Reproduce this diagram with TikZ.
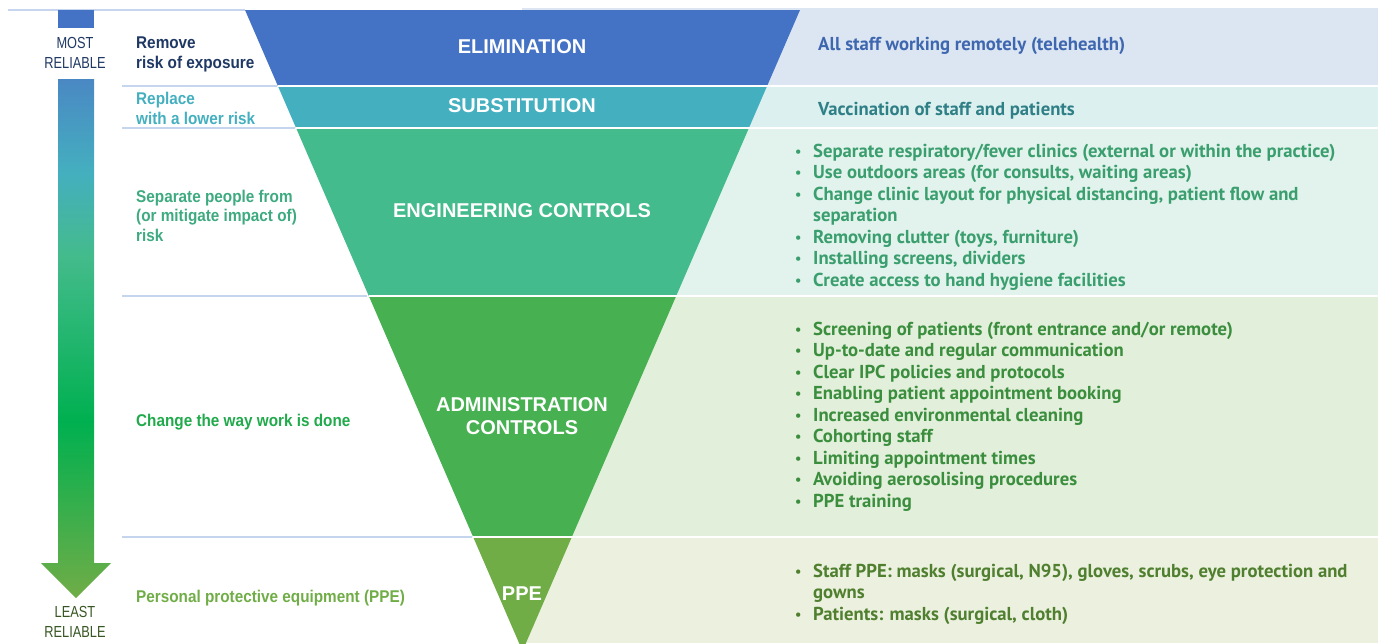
\documentclass[tikz,border=0pt]{standalone}
\usepackage{fontspec}
\usepackage{graphicx}
\setmainfont{Liberation Sans}
\newfontfamily\narrowfont[FakeStretch=0.9]{Liberation Sans}
\newfontfamily\thinfont[FakeStretch=0.8]{Liberation Sans}
\newfontfamily\dinfont{PT Sans}
\usetikzlibrary{positioning,calc}

\definecolor{elimblue}{HTML}{4472C4}
\definecolor{substteal}{HTML}{44AFBF}
\definecolor{enggreen}{HTML}{44BB8C}
\definecolor{admingreen}{HTML}{47B152}
\definecolor{ppegreen}{HTML}{70AD47}
\definecolor{arrowblue}{HTML}{4A88C4}
\definecolor{brightgreen}{HTML}{00B050}
\definecolor{elimpanel}{HTML}{DCE6F2}
\definecolor{substpanel}{HTML}{DDF0F0}
\definecolor{engpanel}{HTML}{E1F3EC}
\definecolor{adminpanel}{HTML}{E2EFDA}
\definecolor{ppepanel}{HTML}{EBF1DE}
\definecolor{navytxt}{HTML}{1F3864}
\definecolor{leasttxt}{HTML}{375623}
\definecolor{elimtxt}{HTML}{3F67B0}
\definecolor{substtxt}{HTML}{2F7F86}
\definecolor{engtxt}{HTML}{3A9E6E}
\definecolor{admintxt}{HTML}{3A8E3E}
\definecolor{ppetxt}{HTML}{4F7F2F}
\definecolor{seplabel}{HTML}{3DAA80}
\definecolor{changelabel}{HTML}{21AA4B}
\definecolor{rulecol}{HTML}{C5D5EE}

\pgfdeclareverticalshading{reliable}{100bp}{color(0bp)=(ppegreen); color(25bp)=(ppegreen); color(42bp)=(brightgreen); color(58bp)=(enggreen); color(66bp)=(substteal); color(75bp)=(arrowblue); color(100bp)=(arrowblue)}

\newcommand{\itm}{\makebox[18pt][l]{\raisebox{1pt}{\scalebox{0.75}{\textbullet}}}}
\newcommand{\contline}{\hspace*{18pt}}

\tikzset{
  lefttxt/.style={anchor=base west, align=left, inner sep=0pt, font=\narrowfont\bfseries\fontsize{17}{19.5}\selectfont},
  tri/.style={text=white, align=center, inner sep=0pt, font=\bfseries\fontsize{20}{23}\selectfont},
  bullets/.style={anchor=base west, align=left, inner sep=0pt, font=\dinfont\bfseries\fontsize{18.7}{21.5}\selectfont},
  reltxt/.style={align=center, inner sep=0pt, font=\thinfont\fontsize{16}{20}\selectfont}
}

\begin{document}
\begin{tikzpicture}[x=1pt,y=-1pt]
    \useasboundingbox (0,0) rectangle (1378,643);
    \draw[rulecol, line width=1.5pt] (8,10) -- (245,10);
    % right hand panels
    \fill[elimpanel] (522,8) rectangle (1378,86);
    \fill[substpanel] (522,86) rectangle (1378,128);
    \fill[engpanel] (522,128) rectangle (1378,296);
    \fill[adminpanel] (522,296) rectangle (1378,537);
    \fill[ppepanel] (522,537) rectangle (1378,643);
    % inverted triangle
    \begin{scope}
        \clip (245,10) -- (800,10) -- (522.5,651) -- cycle;
        \fill[elimblue] (240,10) rectangle (805,86);
        \fill[substteal] (240,86) rectangle (805,128);
        \fill[enggreen] (240,128) rectangle (805,296);
        \fill[admingreen] (240,296) rectangle (805,537);
        \fill[ppegreen] (240,537) rectangle (805,660);
    \end{scope}
    \draw[white, line width=2.5pt] (277.9,86) -- (1378,86); \draw[white, line width=2.5pt] (296.1,128) -- (1378,128);
    \draw[white, line width=2.5pt] (368.8,296) -- (1378,296); \draw[white, line width=2.5pt] (473.2,537) -- (1378,537);
    \draw[rulecol, line width=1.5pt] (122,86) -- (276.5,86); \draw[rulecol, line width=1.5pt] (122,128) -- (294.7,128);
    \draw[rulecol, line width=1.5pt] (122,296) -- (367.4,296); \draw[rulecol, line width=1.5pt] (122,537) -- (471.8,537);
    % reliability arrow
    \fill[elimblue] (58,10) rectangle (94,28);
    \shade[shading=reliable] (58,79) -- (94,79) -- (94,563) -- (111,563) -- (76,598) -- (41,563) -- (58,563) -- cycle;
    \node[reltxt, text=navytxt] (most) at (75,53) {MOST\\RELIABLE};
    \node[reltxt, text=leasttxt] (least) at (75,622) {LEAST\\RELIABLE};
    % left labels
    \node[lefttxt, text=navytxt] (lblremove) at (136,68) {Remove\\risk of exposure};
    \node[lefttxt, text=substteal] (lblreplace) at (136,124) {Replace\\with a lower risk};
    \node[lefttxt, text=seplabel] (lblseparate) at (136,241) {Separate people from\\(or mitigate impact of)\\risk};
    \node[lefttxt, text=changelabel] (lblchange) at (136,426) {Change the way work is done};
    \node[lefttxt, text=ppegreen] (lblppe) at (136,602) {Personal protective equipment (PPE)};
    % triangle labels
    \node[tri] (elim) at (522,47) {ELIMINATION};
    \node[tri] (subst) at (522,106) {SUBSTITUTION};
    \node[tri] (eng) at (522,211) {ENGINEERING CONTROLS};
    \node[tri] (admin) at (522,416) {ADMINISTRATION\\CONTROLS};
    \node[tri] (ppe) at (522,594) {PPE};
    % examples
    \node[bullets, text=elimtxt] (txtelim) at (818,50) {All staff working remotely (telehealth)};
    \node[bullets, text=substtxt] (txtsubst) at (818,115) {Vaccination of staff and patients};
    \node[bullets, text=engtxt] (txteng) at (795,286) {\itm Separate respiratory/fever clinics (external or within the practice)\\
        \itm Use outdoors areas (for consults, waiting areas)\\
        \itm Change clinic layout for physical distancing, patient flow and\\
        \contline separation\\
        \itm Removing clutter (toys, furniture)\\
        \itm Installing screens, dividers\\
        \itm Create access to hand hygiene facilities};
    \node[bullets, text=admintxt] (txtadmin) at (795,507) {\itm Screening of patients (front entrance and/or remote)\\
        \itm Up-to-date and regular communication\\
        \itm Clear IPC policies and protocols\\
        \itm Enabling patient appointment booking\\
        \itm Increased environmental cleaning\\
        \itm Cohorting staff\\
        \itm Limiting appointment times\\
        \itm Avoiding aerosolising procedures\\
        \itm PPE training};
    \node[bullets, text=ppetxt] (txtppe) at (795,620) {\itm Staff PPE: masks (surgical, N95), gloves, scrubs, eye protection and\\
        \contline gowns\\
        \itm Patients: masks (surgical, cloth)};
\end{tikzpicture}
\end{document}
